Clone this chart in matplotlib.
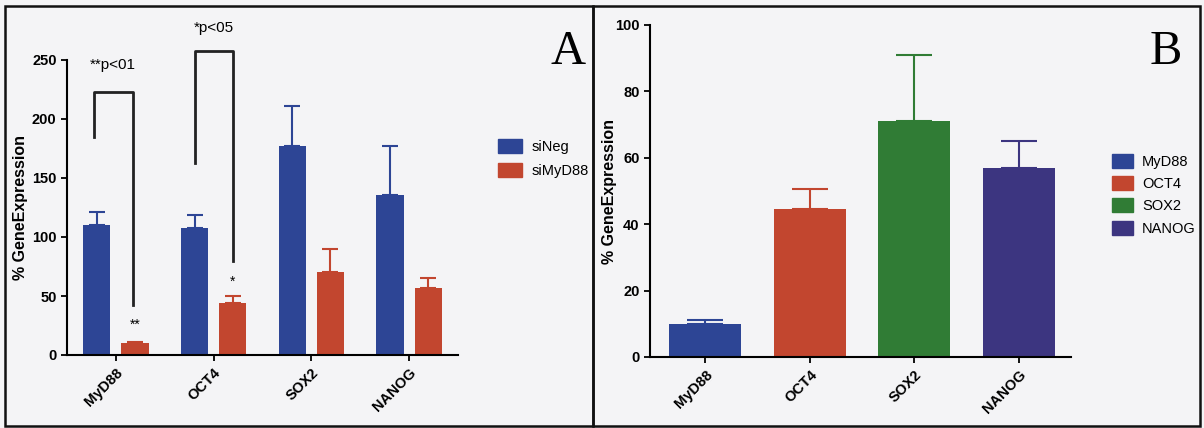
import matplotlib
matplotlib.use("Agg")
import matplotlib.pyplot as plt
import matplotlib.patches as mpatches
import numpy as np

plt.rcParams['font.family'] = ['Liberation Sans', 'DejaVu Sans']

# data
genes = ["MyD88", "OCT4", "SOX2", "NANOG"]
sineg = [110, 108, 177, 136]
sineg_err = [11, 11, 34, 41]
simyd88 = [10, 44, 70, 57]
simyd88_err = [1, 6, 20, 8]

b_vals = [10, 44.5, 71, 57]
b_err = [1, 6, 20, 8]

blue = "#2d4595"
red = "#c2462f"
green = "#307c35"
purple = "#3c3580"
bg = "#f4f4f6"

fig = plt.figure(figsize=(12.04, 4.28), dpi=100)
fig.patch.set_facecolor(bg)

W, H = 1204.0, 428.0


def box(l, t, r, b):
    return [l / W, 1 - b / H, (r - l) / W, (b - t) / H]


def style(ax):
    ax.set_facecolor("none")
    for s in ["top", "right"]:
        ax.spines[s].set_visible(False)
    for s in ["left", "bottom"]:
        ax.spines[s].set_linewidth(1.5)
    ax.tick_params(axis="both", width=1.3, length=4, labelsize=10.5)
    for lab in ax.get_yticklabels() + ax.get_xticklabels():
        lab.set_fontweight("bold")


# ---- panel A ----
axA = fig.add_axes(box(67, 60, 458, 355))
x = np.arange(len(genes))
w = 0.28
off = 0.195
axA.bar(x - off, sineg, w, color=blue,
        yerr=[np.zeros(4), sineg_err], ecolor=blue,
        error_kw=dict(capsize=5.5, elinewidth=1.5, capthick=1.5))
axA.bar(x + off, simyd88, w, color=red,
        yerr=[np.zeros(4), simyd88_err], ecolor=red,
        error_kw=dict(capsize=5.5, elinewidth=1.5, capthick=1.5))
axA.set_xlim(-0.5, 3.5)
axA.set_ylim(0, 250)
axA.set_yticks([0, 50, 100, 150, 200, 250])
axA.set_xticks(x)
axA.set_xticklabels(genes, rotation=45, ha="right", rotation_mode="anchor")
axA.set_ylabel("% GeneExpression", fontsize=11.5, fontweight="bold")
axA.yaxis.set_label_coords((28 - 67) / 391, 0.5)
style(axA)

# significance brackets
axA.plot([-0.22, -0.22, 0.175, 0.175], [185, 223, 223, 42], color="#222222",
         lw=2, clip_on=False)
axA.plot([0.81, 0.81, 1.2, 1.2], [163, 258, 258, 80], color="#222222",
         lw=2, clip_on=False)
axA.text(-0.03, 246, "**p<01", ha="center", va="center", fontsize=11, clip_on=False)
axA.text(1.0, 277, "*p<05", ha="center", va="center", fontsize=11, clip_on=False)
axA.text(0.195, 26, "**", ha="center", va="center", fontsize=10)
axA.text(1.195, 62, "*", ha="center", va="center", fontsize=10)

hA = [mpatches.Patch(color=blue, label="siNeg"),
      mpatches.Patch(color=red, label="siMyD88")]
fig.legend(handles=hA, loc="upper left", bbox_to_anchor=(498 / W, 1 - 139 / H),
           frameon=False, fontsize=10.5, handlelength=1.65, handleheight=1.1,
           labelspacing=0.6, handletextpad=0.65, borderpad=0, borderaxespad=0)
fig.text(568 / W, 1 - 52 / H, "A", family=["Liberation Serif", "DejaVu Serif"],
         fontsize=35, ha="center", va="center")

# ---- panel B ----
axB = fig.add_axes(box(650, 25, 1071, 357))
cols = [blue, red, green, purple]
for i in range(len(genes)):
    axB.bar(x[i], b_vals[i], 0.69, color=cols[i],
            yerr=[[0], [b_err[i]]], ecolor=cols[i],
            error_kw=dict(capsize=13, elinewidth=1.5, capthick=1.5))
axB.set_xlim(-0.53, 3.5)
axB.set_ylim(0, 100)
axB.set_yticks([0, 20, 40, 60, 80, 100])
axB.set_xticks(x)
axB.set_xticklabels(genes, rotation=45, ha="right", rotation_mode="anchor")
axB.set_ylabel("% GeneExpression", fontsize=11.5, fontweight="bold")
axB.yaxis.set_label_coords((617 - 650) / 421, 0.5)
style(axB)

hB = [mpatches.Patch(color=c, label=g) for c, g in zip(cols, genes)]
fig.legend(handles=hB, loc="upper left", bbox_to_anchor=(1112 / W, 1 - 154 / H),
           frameon=False, fontsize=10.5, handlelength=1.45, handleheight=1.1,
           labelspacing=0.5, handletextpad=0.6, borderpad=0, borderaxespad=0)
fig.text(1166 / W, 1 - 52 / H, "B", family=["Liberation Serif", "DejaVu Serif"],
         fontsize=35, ha="center", va="center")

# panel frames
for l, r in [(5, 593), (593, 1200)]:
    fig.patches.append(mpatches.Rectangle((l / W, 1 - 426 / H), (r - l) / W, 420 / H,
                                          transform=fig.transFigure, fill=False,
                                          edgecolor="#111111", lw=1.8))

fig.savefig("out.png", dpi=100, facecolor=fig.get_facecolor())
